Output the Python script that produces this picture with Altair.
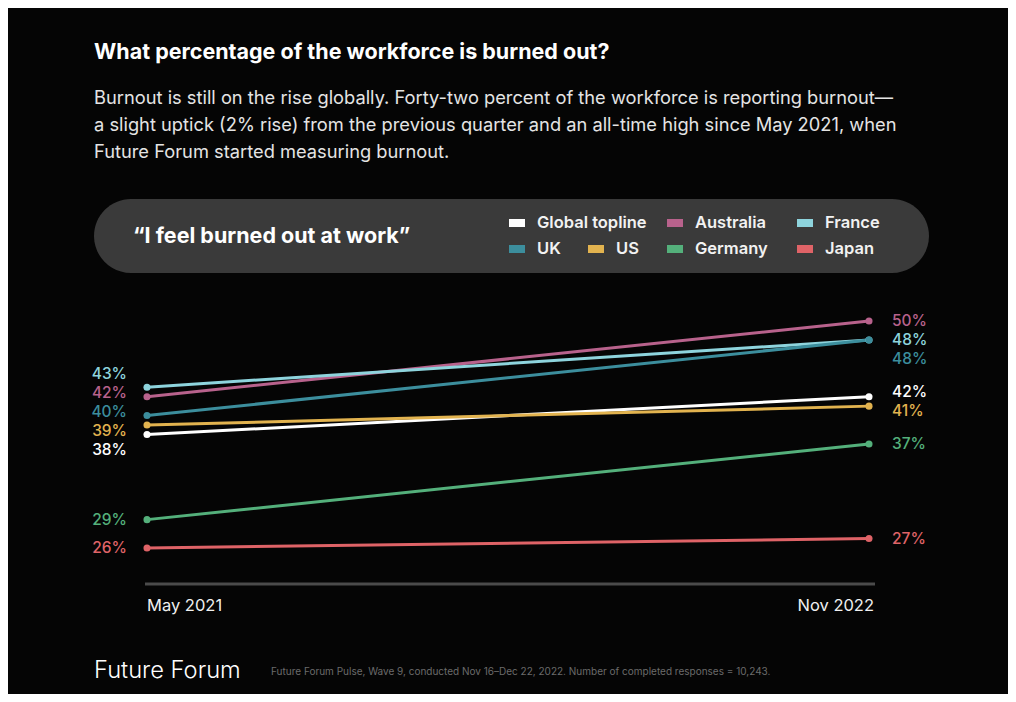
import altair as alt
import pandas as pd

# ---------------- data ----------------
series = ["Global topline", "Australia", "France", "UK", "US", "Germany", "Japan"]
may_2021 = [38, 42, 43, 40, 39, 29, 26]
nov_2022 = [42, 50, 48, 48, 41, 37, 27]
colors = ["#ffffff", "#b8628c", "#8ed4dd", "#3c8e9d", "#e2b34f", "#54b07b", "#df6367"]
periods = ["May 2021", "Nov 2022"]

title_text = "What percentage of the workforce is burned out?"
subtitle_lines = [
    "Burnout is still on the rise globally. Forty-two percent of the workforce is reporting burnout\u2014",
    "a slight uptick (2% rise) from the previous quarter and an all-time high since May 2021, when",
    "Future Forum started measuring burnout.",
]
panel_title = "\u201cI feel burned out at work\u201d"
brand = "Future Forum"
source_note = ("Future Forum Pulse, Wave 9, conducted Nov 16\u2013Dec 22, 2022. "
               "Number of completed responses = 10,243.")

# ---------------- layout ----------------
W, H = 1000, 686
BG = "#050505"
FONT = "Inter"
X_RANGE = [139, 861]
Y_MIN, Y_MAX = min(may_2021 + nov_2022), max(may_2021 + nov_2022)
Y_RANGE = [540, 313]
PX_PER_UNIT = (Y_RANGE[0] - Y_RANGE[1]) / (Y_MAX - Y_MIN)
LABEL_GAP = 19


def spread_labels(values):
    """De-overlap label positions (in data units) keeping clusters centred,
    but never placing a label above the top of the plotting range."""
    px = [Y_RANGE[0] - (v - Y_MIN) * PX_PER_UNIT for v in values]
    order = sorted(range(len(px)), key=lambda k: px[k])
    clusters = [[k] for k in order]
    centres = [px[k] for k in order]

    def positions(cl, c):
        n = len(cl)
        start = max(c - (n - 1) / 2 * LABEL_GAP, Y_RANGE[1])
        return [start + j * LABEL_GAP for j in range(n)]

    changed = True
    while changed:
        changed = False
        for a in range(len(clusters) - 1):
            pa = positions(clusters[a], centres[a])
            pb = positions(clusters[a + 1], centres[a + 1])
            if pa[-1] + LABEL_GAP > pb[0] + 0.01:
                merged = clusters[a] + clusters[a + 1]
                clusters[a:a + 2] = [merged]
                centres[a:a + 2] = [sum(px[k] for k in merged) / len(merged)]
                changed = True
                break
    out = [0.0] * len(values)
    for cl, c in zip(clusters, centres):
        for k, p in zip(cl, positions(cl, c)):
            out[k] = Y_MIN + (Y_RANGE[0] - p) / PX_PER_UNIT
    return out


left_lab = spread_labels(may_2021)
right_lab = spread_labels(nov_2022)

rows = []
for s, a, b, la, lb in zip(series, may_2021, nov_2022, left_lab, right_lab):
    rows.append({"series": s, "i": 0, "period": periods[0], "value": a, "label_v": la, "label": f"{a}%"})
    rows.append({"series": s, "i": 1, "period": periods[1], "value": b, "label_v": lb, "label": f"{b}%"})
df = pd.DataFrame(rows)

xs = alt.Scale(domain=[0, 1], range=X_RANGE)
ys = alt.Scale(domain=[Y_MIN, Y_MAX], range=Y_RANGE)
cs = alt.Scale(domain=series, range=colors)

X = alt.X("i:Q", scale=xs, axis=None)
Y = alt.Y("value:Q", scale=ys, axis=None)
C = alt.Color("series:N", scale=cs, legend=None)

one = pd.DataFrame({"d": [0]})

# ---------------- header ----------------
title = alt.Chart(one).mark_text(
    align="left", baseline="middle", font=FONT, fontSize=21.5, fontWeight=700, color="#ffffff"
).encode(x=alt.value(86), y=alt.value(45), text=alt.value(title_text))

sub_df = pd.DataFrame({"line": subtitle_lines, "n": list(range(len(subtitle_lines)))})
subtitle = alt.Chart(sub_df).mark_text(
    align="left", baseline="middle", font=FONT, fontSize=18.3, fontWeight=400, color="#e4e4e4"
).encode(
    x=alt.value(86),
    y=alt.Y("n:Q", scale=alt.Scale(domain=[0, 2], range=[91, 145]), axis=None),
    text="line:N",
)

pill = alt.Chart(one).mark_rect(cornerRadius=37, color="#3a3a3a").encode(
    x=alt.value(86), x2=alt.value(921), y=alt.value(191), y2=alt.value(265)
)
pill_text = alt.Chart(one).mark_text(
    align="left", baseline="middle", font=FONT, fontSize=21.5, fontWeight=700, color="#ffffff"
).encode(x=alt.value(125), y=alt.value(229), text=alt.value(panel_title))

# legend (manual flow layout)
leg_sq_x = [501, 659, 789, 501, 580, 659, 789]
leg_rows = [0, 0, 0, 1, 1, 1, 1]
leg_df = pd.DataFrame({
    "series": series,
    "x": leg_sq_x,
    "x2": [v + 16 for v in leg_sq_x],
    "tx": [v + 28 for v in leg_sq_x],
    "y": [[215, 241][r] for r in leg_rows],
})
leg_df["y1"] = leg_df["y"] - 4
leg_df["y2"] = leg_df["y"] + 4
leg_sq = alt.Chart(leg_df).mark_rect().encode(
    x=alt.X("x:Q", scale=None), x2="x2:Q",
    y=alt.Y("y1:Q", scale=None), y2="y2:Q",
    color=C,
)
leg_tx = alt.Chart(leg_df).mark_text(
    align="left", baseline="middle", font=FONT, fontSize=16.5, fontWeight=600, color="#f2f2f2"
).encode(
    x=alt.X("tx:Q", scale=None), y=alt.Y("y:Q", scale=None), text="series:N"
)

# ---------------- plot ----------------
axis_line = alt.Chart(one).mark_rule(color="#4b4b4b", strokeWidth=3).encode(
    x=alt.value(137), x2=alt.value(867), y=alt.value(576)
)
base = alt.Chart(df)
ax_left = base.transform_filter("datum.i == 0 && datum.series == 'Global topline'").mark_text(
    align="left", baseline="middle", font=FONT, fontSize=16.5, fontWeight=400, color="#f0f0f0", dx=0
).encode(x=X, y=alt.value(598), text="period:N")
ax_right = base.transform_filter("datum.i == 1 && datum.series == 'Global topline'").mark_text(
    align="right", baseline="middle", font=FONT, fontSize=16.5, fontWeight=400, color="#f0f0f0", dx=5
).encode(x=X, y=alt.value(598), text="period:N")

lines = base.mark_line(strokeWidth=3).encode(x=X, y=Y, color=C, detail="series:N")
dots = base.mark_circle(size=50, opacity=1).encode(x=X, y=Y, color=C)

YL = alt.Y("label_v:Q", scale=ys, axis=None)
lab_left = base.transform_filter("datum.i == 0").mark_text(
    align="right", baseline="middle", font=FONT, fontSize=15.5, fontWeight=500, dx=-20
).encode(x=X, y=YL, text="label:N", color=C)
lab_right = base.transform_filter("datum.i == 1").mark_text(
    align="left", baseline="middle", font=FONT, fontSize=15.5, fontWeight=500, dx=23
).encode(x=X, y=YL, text="label:N", color=C)

# ---------------- footer ----------------
brand_t = alt.Chart(one).mark_text(
    align="left", baseline="middle", font=FONT, fontSize=23.7, fontWeight=300, color="#ffffff"
).encode(x=alt.value(86), y=alt.value(663), text=alt.value(brand))
note_t = alt.Chart(one).mark_text(
    align="left", baseline="middle", font=FONT, fontSize=10, fontWeight=400, color="#6b6b6b"
).encode(x=alt.value(263), y=alt.value(664), text=alt.value(source_note))

chart = alt.layer(
    title, subtitle, pill, pill_text, leg_sq, leg_tx,
    axis_line, ax_left, ax_right, lines, dots, lab_left, lab_right,
    brand_t, note_t,
).resolve_scale(y="independent").properties(
    width=W, height=H, background=BG, padding=0, autosize="none"
).configure_view(stroke=None)

chart.save("out.html", embed_options={"renderer": "svg", "actions": False})
